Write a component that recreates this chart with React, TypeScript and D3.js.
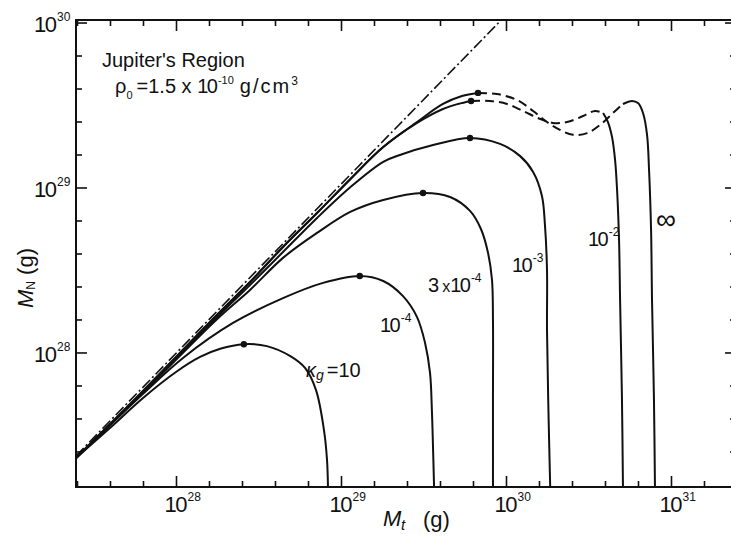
import React from "react";
import * as d3 from "d3";

type Pt = [number, number];

const W = 731;
const H = 538;
const plotLeft = 76;
const plotRight = 736;
const plotTop = 20;
const plotBottom = 487;

// Evolution tracks [M_t (g), M_N (g)] for each grain opacity κg
const kappa10: Pt[] = [
  [2.46e27, 2.31e27], [3.95e27, 3.51e27], [6.27e27, 5.34e27], [9.93e27, 7.67e27],
  [1.39e28, 9.46e27], [1.84e28, 1.06e28], [2.56e28, 1.13e28], [3.53e28, 1.1e28],
  [4.87e28, 9.59e27], [6.01e28, 8.11e27], [7.0e28, 5.97e27], [7.83e28, 3.41e27],
  [8.17e28, 2.25e27], [8.28e28, 1.54e27],
];
const kappa1e4: Pt[] = [
  [2.46e27, 2.31e27], [6.27e27, 5.65e27], [1.095e28, 9.33e27], [2.2e28, 1.52e28],
  [4.42e28, 2.15e28], [7.73e28, 2.66e28], [1.29e29, 2.93e28], [1.79e29, 2.73e28],
  [2.36e29, 2.21e28], [2.87e29, 1.65e28], [3.21e29, 1.15e28], [3.44e29, 7.57e27],
  [3.53e29, 4.51e27], [3.59e29, 2.58e27], [3.64e29, 1.54e27],
];
const kappa3e4: Pt[] = [
  [2.46e27, 2.31e27], [6.27e27, 5.73e27], [1.74e28, 1.585e28], [2.79e28, 2.41e28],
  [4.42e28, 3.77e28], [7.11e28, 5.34e28], [1.13e29, 7.16e28], [1.79e29, 8.46e28],
  [3.12e29, 9.33e28], [4.55e29, 8.82e28], [6.01e29, 7.26e28], [7.0e29, 5.64e28],
  [7.73e29, 4.04e28], [8.17e29, 2.77e28], [8.28e29, 1.585e28], [8.28e29, 5.19e27],
  [8.28e29, 1.54e27],
];
const kappa1e3: Pt[] = [
  [2.46e27, 2.31e27], [6.27e27, 5.81e27], [1.74e28, 1.63e28], [2.79e28, 2.58e28],
  [4.42e28, 4.09e28], [7.11e28, 6.58e28], [1.13e29, 1.01e29], [1.79e29, 1.44e29],
  [2.26e29, 1.585e29], [3.59e29, 1.82e29], [6.01e29, 2.01e29], [9.14e29, 1.85e29],
  [1.21e30, 1.56e29], [1.45e30, 1.25e29], [1.64e30, 8.95e28], [1.71e30, 5.97e28],
  [1.76e30, 3.18e28], [1.76e30, 1.38e28], [1.79e30, 5.19e27], [1.84e30, 1.54e27],
];
const kappa1e2Rise: Pt[] = [
  [2.46e27, 2.31e27], [6.27e27, 5.88e27], [1.74e28, 1.68e28], [2.79e28, 2.69e28],
  [4.42e28, 4.39e28], [7.11e28, 7.05e28], [1.13e29, 1.13e29], [1.79e29, 1.77e29],
  [2.87e29, 2.48e29], [4.12e29, 3.01e29], [5.08e29, 3.23e29], [6.1e29, 3.37e29],
];
const kappa1e2Dash: Pt[] = [
  [6.1e29, 3.37e29], [7.94e29, 3.37e29], [1.007e30, 3.23e29], [1.26e30, 2.93e29],
  [1.6e30, 2.62e29], [1.91e30, 2.48e29], [2.33e30, 2.51e29], [2.91e30, 2.73e29],
  [3.44e30, 2.93e29], [3.85e30, 2.85e29],
];
const kappa1e2Fall: Pt[] = [
  [3.85e30, 2.85e29], [4.12e30, 2.51e29], [4.36e30, 2.04e29], [4.55e30, 1.48e29],
  [4.68e30, 9.73e28], [4.81e30, 4.84e28], [4.88e30, 2.1e28], [5.01e30, 5.19e27],
  [5.08e30, 1.54e27],
];
const kappaInfRise: Pt[] = [
  [2.46e27, 2.31e27], [6.27e27, 5.88e27], [1.74e28, 1.68e28], [2.79e28, 2.69e28],
  [4.42e28, 4.39e28], [7.11e28, 7.05e28], [1.13e29, 1.13e29], [1.79e29, 1.77e29],
  [2.87e29, 2.51e29], [4.12e29, 3.23e29], [5.37e29, 3.61e29], [6.72e29, 3.77e29],
];
const kappaInfDash: Pt[] = [
  [6.72e29, 3.77e29], [8.75e29, 3.71e29], [1.16e30, 3.41e29], [1.45e30, 2.93e29],
  [1.76e30, 2.51e29], [2.11e30, 2.25e29], [2.53e30, 2.1e29], [3.08e30, 2.15e29],
  [3.69e30, 2.41e29], [4.42e30, 2.85e29], [5.08e30, 3.23e29],
];
const kappaInfFall: Pt[] = [
  [5.08e30, 3.23e29], [5.77e30, 3.37e29], [6.27e30, 3.27e29], [6.72e30, 2.85e29],
  [7.11e30, 2.1e29], [7.31e30, 1.29e29], [7.52e30, 5.56e28], [7.62e30, 2.1e28],
  [7.83e30, 5.19e27], [7.94e30, 1.54e27],
];
// M_N = M_t reference line
const equalMass: Pt[] = [[2.46e27, 2.38e27], [9.27e29, 1.04e30]];

const xMajor = [1e28, 1e29, 1e30, 1e31];
const xMajorExp = ["28", "29", "30", "31"];
const yMajor = [1e28, 1e29, 1e30];
const yMajorExp = ["28", "29", "30"];

const x = d3.scaleLog().domain([2.46e27, 2.46e31]).range([plotLeft, plotRight]);
const y = d3.scaleLog().domain([1.54e27, 1.043e30]).range([plotBottom, plotTop]);

const line = d3
  .line<Pt>()
  .x((d) => x(d[0]))
  .y((d) => y(d[1]))
  .curve(d3.curveCatmullRom.alpha(0.5));

// ticks every fifth of a decade
const xMinor = d3.range(137, 157).map((k) => ({ v: Math.pow(10, k / 5), major: k % 5 === 0 }));
const yMinor = d3.range(137, 151).map((k) => ({ v: Math.pow(10, k / 5), major: k % 5 === 0 }));

const solidTracks = [kappa10, kappa1e4, kappa3e4, kappa1e3, kappa1e2Rise, kappa1e2Fall, kappaInfRise, kappaInfFall];
const dashedTracks = [kappa1e2Dash, kappaInfDash];
const fullTracks = [
  kappa10, kappa1e4, kappa3e4, kappa1e3,
  [...kappa1e2Rise, ...kappa1e2Dash, ...kappa1e2Fall],
  [...kappaInfRise, ...kappaInfDash, ...kappaInfFall],
];
const maxima = fullTracks.map((t) => d3.greatest(t, (d) => d[1]) as Pt);

const ink = "#111";
const sans = "'Liberation Sans', Arial, sans-serif";

// "10" followed by a raised exponent
function Pow({ x0, y0, exp, size = 20, sup = 12 }: { x0: number; y0: number; exp: string; size?: number; sup?: number }) {
  return (
    <text x={x0} y={y0} fontSize={size} fill={ink}>
      <tspan letterSpacing={-1.5}>10</tspan>
      <tspan fontSize={sup} dx={1.5} dy={-size * 0.5}>{exp}</tspan>
    </text>
  );
}

export default function App() {
  return (
    <svg
      width={W}
      height={H}
      style={{ position: "absolute", left: 0, top: 0, background: "#fff" }}
      fontFamily={sans}
    >
      <defs>
        <clipPath id="plot">
          <rect x={plotLeft} y={plotTop} width={plotRight - plotLeft} height={plotBottom - plotTop} />
        </clipPath>
      </defs>

      {/* frame */}
      <rect
        x={plotLeft}
        y={plotTop}
        width={plotRight - plotLeft}
        height={plotBottom - plotTop}
        fill="none"
        stroke={ink}
        strokeWidth={2}
      />

      {/* ticks, inward on all sides */}
      {xMinor.map((t, i) => {
        const px = x(t.v);
        const len = t.major ? 11 : 6;
        return (
          <g key={`xt${i}`} stroke={ink} strokeWidth={1.6}>
            <line x1={px} x2={px} y1={plotBottom} y2={plotBottom - len} />
            <line x1={px} x2={px} y1={plotTop} y2={plotTop + len} />
          </g>
        );
      })}
      {yMinor.map((t, i) => {
        const py = y(t.v);
        const len = t.major ? 11 : 6;
        return (
          <g key={`yt${i}`} stroke={ink} strokeWidth={1.6}>
            <line x1={plotLeft} x2={plotLeft + len} y1={py} y2={py} />
            <line x1={plotRight} x2={plotRight - len} y1={py} y2={py} />
          </g>
        );
      })}

      {/* tick labels */}
      {xMajor.map((v, i) => (
        <Pow key={`xl${i}`} x0={x(v) - 12} y0={512} exp={xMajorExp[i]} size={22} sup={12} />
      ))}
      {yMajor.map((v, i) => {
        const py = Math.max(y(v), 13);
        return <Pow key={`yl${i}`} x0={34} y0={py + 9} exp={yMajorExp[i]} size={22} sup={12} />;
      })}

      {/* axis titles */}
      <g transform="translate(33,308) rotate(-90)" fill={ink}>
        <text x={0} y={0} fontSize={22}>
          <tspan fontStyle="italic">M</tspan>
          <tspan fontSize={12} dy={2}>N</tspan>
          <tspan dy={-2}> (g)</tspan>
        </text>
      </g>
      <g fill={ink}>
        <text x={383} y={526} fontSize={22} fontStyle="italic">M</text>
        <text x={401} y={530} fontSize={15} fontStyle="italic">t</text>
        <text x={423} y={527} fontSize={22}>(g)</text>
      </g>

      {/* tracks */}
      <g clipPath="url(#plot)" fill="none" stroke={ink}>
        <path d={line(equalMass) ?? ""} strokeWidth={1.6} strokeDasharray="11 3 2 3" />
        {solidTracks.map((t, i) => (
          <path key={`s${i}`} d={line(t) ?? ""} strokeWidth={2} />
        ))}
        {dashedTracks.map((t, i) => (
          <path key={`d${i}`} d={line(t) ?? ""} strokeWidth={2} strokeDasharray="9 5" />
        ))}
      </g>
      {maxima.map((d, i) => (
        <circle key={`m${i}`} cx={x(d[0])} cy={y(d[1])} r={3.2} fill={ink} />
      ))}

      {/* annotation */}
      <text x={102} y={67} fontSize={20} fill={ink}>Jupiter's Region</text>
      <text x={115} y={93} fontSize={20} fill={ink}>
        <tspan>ρ</tspan>
        <tspan fontSize={11} dy={6}>0</tspan>
        <tspan dx={4} dy={-6}>=1.5 x </tspan>
        <tspan letterSpacing={-1.5}>10</tspan>
        <tspan fontSize={11} dx={1.5} dy={-9}>-10</tspan>
        <tspan dx={6} dy={9} letterSpacing={2}>g/cm</tspan>
        <tspan fontSize={12} dy={-8}>3</tspan>
      </text>

      {/* track labels */}
      <text x={306} y={377} fontSize={20} fill={ink}>
        <tspan fontStyle="italic">κ</tspan>
        <tspan fontSize={14} fontStyle="italic" dy={3}>g</tspan>
        <tspan dx={3} dy={-3}>=10</tspan>
      </text>
      <Pow x0={380} y0={332} exp="-4" />
      <text x={428} y={292} fontSize={20} fill={ink}>
        <tspan>3</tspan>
        <tspan fontSize={16} dx={3}>x</tspan>
        <tspan letterSpacing={-1.5}>10</tspan>
        <tspan fontSize={12} dx={1.5} dy={-10}>-4</tspan>
      </text>
      <Pow x0={512} y0={272} exp="-3" />
      <Pow x0={588} y0={246} exp="-2" />
      <text x={656} y={229} fontSize={28} fill={ink}>∞</text>
    </svg>
  );
}
